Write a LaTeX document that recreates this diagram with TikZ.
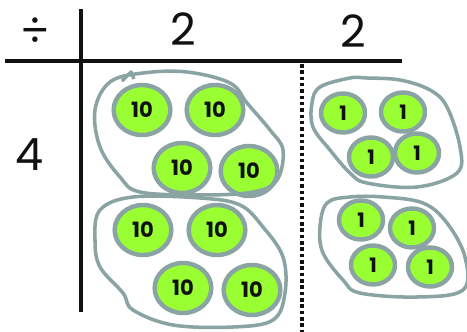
\documentclass[tikz,border=0pt]{standalone}
\usepackage{fontspec}
\setmainfont{Poppins}
\usepackage{tikz}
\usetikzlibrary{shapes.geometric,positioning}
\definecolor{ChipGreen}{HTML}{99FF33}
\definecolor{ChipGray}{HTML}{8AA3A3}
\definecolor{InkBlack}{HTML}{111111}
\tikzset{
  chip/.style={ellipse,draw=ChipGray,fill=ChipGreen,line width=3.8pt,
               inner sep=0pt,text=InkBlack},
  ten/.style={chip,minimum width=1.7cm,minimum height=1.5cm,
              font=\fontsize{18}{18}\selectfont\bfseries},
  one/.style={chip,minimum width=1.32cm,minimum height=1.17cm,
              font=\fontsize{17}{17}\selectfont\bfseries},
  rule/.style={draw=InkBlack,line width=3.4pt},
  loop/.style={draw=ChipGray,line width=3pt,line join=round},
  head/.style={font=\fontsize{38}{38}\selectfont,text=InkBlack}
}

\begin{document}
\begin{tikzpicture}[x=0.03cm,y=-0.03cm]
  \useasboundingbox[fill=white] (0,0) rectangle (467,332);

  % Table
  \coordinate (hl) at (5,61);
  \coordinate (hr) at (402,61);
  \coordinate (vt) at (81,9);
  \coordinate (vb) at (81,312);
  \coordinate (dt) at (302,64);
  \coordinate (db) at (302,332);
  \draw[rule] (hl)--(hr);
  \draw[rule] (vt)--(vb);
  \draw[rule,dash pattern=on 3pt off 2.4pt] (dt)--(db);

  \node[head] (op) at (35,32) {÷};
  \node[head] (tens) at (183,29) {2};
  \node[head] (ones) at (353,31) {2};
  \node[head] (rows) at (30,155) {4};

  % Tens
  \node[ten] (t1) at (142,110) {10};
  \node[ten] (t2) at (215,110) {10};
  \node[ten] (t3) at (182,168) {10};
  \node[ten] (t4) at (249,171) {10};
  \node[ten] (t5) at (143,230) {10};
  \node[ten] (t6) at (217,230) {10};
  \node[ten] (t7) at (183,288) {10};
  \node[ten] (t8) at (252,290) {10};

  % Ones
  \node[one] (u1) at (343,113) {1};
  \node[one] (u2) at (403,112) {1};
  \node[one] (u3) at (371,157) {1};
  \node[one] (u4) at (417,153) {1};
  \node[one] (u5) at (361,220) {1};
  \node[one] (u6) at (412,228) {1};
  \node[one] (u7) at (373,265) {1};
  \node[one] (u8) at (430,267) {1};

  % Groups
  \draw[loop] plot[smooth cycle,tension=0.6] coordinates {
    (110,82) (95,110) (100,147) (120,177) (140,192) (200,195) (253,192)
    (277,180) (283,150) (270,130) (247,103) (230,83) (187,72) (143,73)};
  \draw[loop] (122,81)--(131,72)--(134,79);
  \draw[loop] plot[smooth cycle,tension=0.6] coordinates {
    (133,197) (100,210) (95,240) (100,267) (123,293) (133,310) (173,325)
    (233,327) (273,320) (285,293) (283,257) (263,227) (240,205) (200,198)};
  \draw[loop] plot[smooth cycle,tension=0.6] coordinates {
    (350,78) (320,87) (312,103) (313,127) (330,150) (350,173) (367,183)
    (417,187) (457,173) (460,147) (447,107) (430,90) (400,80) (367,78)};
  \draw[loop] plot[smooth cycle,tension=0.6] coordinates {
    (350,197) (327,203) (320,227) (323,253) (343,280) (360,293) (417,297)
    (463,290) (465,257) (447,223) (423,203) (383,197)};
\end{tikzpicture}
\end{document}
